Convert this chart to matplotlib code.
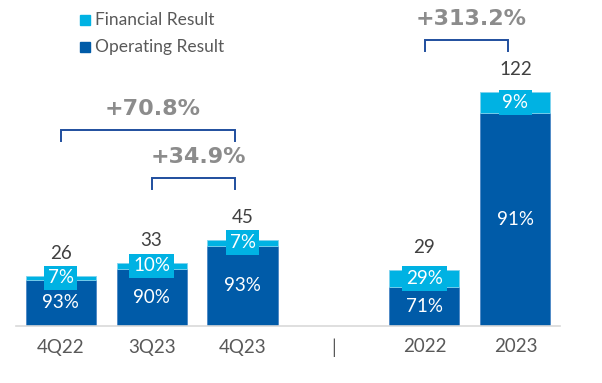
import numpy as np
import matplotlib.pyplot as plt

plt.rcParams['font.family'] = ['Lato', 'DejaVu Sans']

# Result by quarter / year (R$ mn) and share of each component
periods = ['4Q22', '3Q23', '4Q23', '|', '2022', '2023']
totals = [26, 33, 45, None, 29, 122]
financial_pct = [7, 10, 7, None, 29, 9]
operating_pct = [93, 90, 93, None, 71, 91]

# Growth brackets: (from index, to index, label)
growth = [(0, 2, '+70.8%'), (1, 2, '+34.9%'), (4, 5, '+313.2%')]

dark_blue = '#005BA8'
light_blue = '#00B2E3'
text_gray = '#595959'

fig = plt.figure(figsize=(6.02, 3.83), dpi=100)
ax = fig.add_axes([16 / 602, 57 / 383, 544 / 602, 326 / 383])

x = np.arange(len(periods))
width = 0.77
for i, tot in enumerate(totals):
    if tot is None:
        continue
    op = tot * operating_pct[i] / 100
    fin = tot * financial_pct[i] / 100
    ax.bar(x[i], op, width, color=dark_blue, edgecolor='#4A86C5', linewidth=0.6)
    ax.bar(x[i], fin, width, bottom=op, color=light_blue, edgecolor='#7FD3EE', linewidth=0.6)
    ax.text(x[i], op / 2, f'{operating_pct[i]}%', ha='center', va='center',
            color='white', fontsize=13.5)
    ax.text(x[i], op + fin / 2, f'{financial_pct[i]}%', ha='center', va='center',
            color='white', fontsize=13.5,
            bbox=dict(boxstyle='square,pad=0.2', fc=light_blue, ec='none'))
    ax.annotate(f'{tot}', (x[i], tot), xytext=(0, 10), textcoords='offset points',
                ha='center', va='bottom', color='#404040', fontsize=13.5)

# Brackets with growth labels
bracket_y = {'+70.8%': 102, '+34.9%': 77, '+313.2%': 149}
for a, b, label in growth:
    y = bracket_y[label]
    x0, x1 = x[a] + 0.01, x[b] - 0.08
    ax.plot([x0, x0, x1, x1], [y - 5.5, y, y, y - 5.5], color='#1F4E9E', lw=1.4,
            solid_joinstyle='miter')
    ax.text((x0 + x1) / 2 + 0.05, y + 6, label, ha='center', va='bottom',
            color='#8C8C8C', fontsize=16, fontweight='bold',
            family=['Liberation Sans Narrow', 'DejaVu Sans'])

ax.set_xlim(-0.49, 5.49)
ax.set_ylim(0, 170)
ax.set_xticks(x)
ax.set_xticklabels(periods, fontsize=13.5, color=text_gray)
ax.tick_params(axis='x', length=0, pad=9)
ax.set_yticks([])
for side in ['top', 'right', 'left']:
    ax.spines[side].set_visible(False)
ax.spines['bottom'].set_color('#D9D9D9')
ax.spines['bottom'].set_linewidth(1.2)

# Legend
legend_items = [('Financial Result', light_blue, 20), ('Operating Result', dark_blue, 47)]
for name, color, py in legend_items:
    fig.patches.append(plt.Rectangle((80 / 602, 1 - (py + 5) / 383), 10 / 602, 10 / 383,
                                     transform=fig.transFigure, color=color))
    fig.text(95 / 602, 1 - py / 383, name, ha='left', va='center',
             color=text_gray, fontsize=12.5)

fig.savefig('out.png', dpi=100)
